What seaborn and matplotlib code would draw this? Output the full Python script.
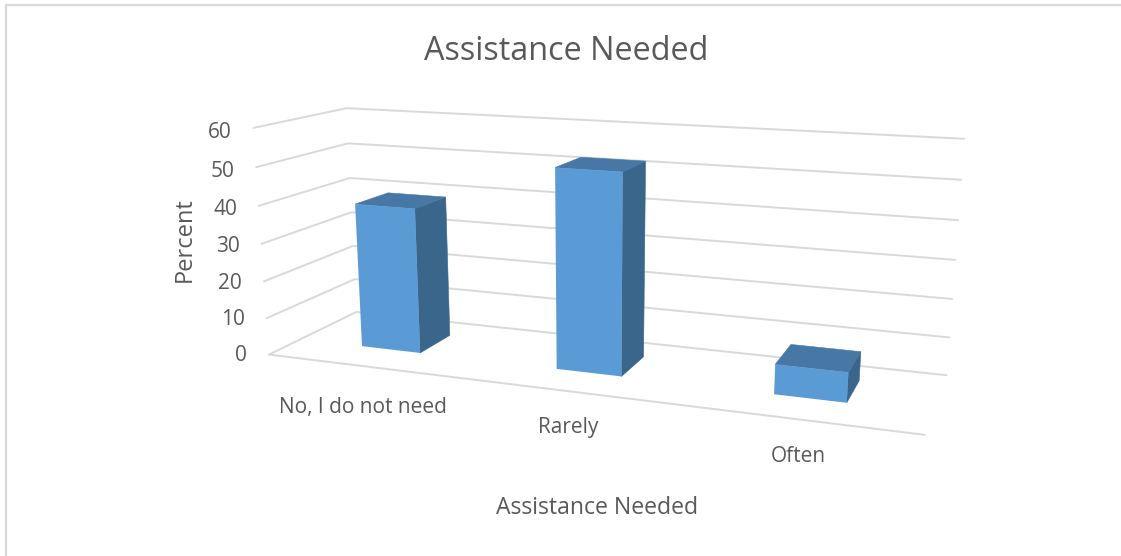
import numpy as np
import pandas as pd
import seaborn as sns
import matplotlib
matplotlib.use("Agg")
import matplotlib.pyplot as plt
from matplotlib.patches import Polygon
from matplotlib.transforms import Transform, IdentityTransform

categories = ["No, I do not need", "Rarely", "Often"]
percent = [39.0, 52.0, 7.6]
value_ticks = [0, 10, 20, 30, 40, 50, 60]
title_text = "Assistance Needed"
x_title = "Assistance Needed"
y_title = "Percent"

W, H = 1121, 556
FRONT, TOP, SIDE = "#5B9BD5", "#4677A5", "#3B668C"
GRID, TEXT = "#D9D9D9", "#595959"
BAR_WIDTH = 0.31
BAR_SHIFT = -0.008
DEPTH_NEAR, DEPTH_FAR = 0.34, 0.73

sns.set_theme(style="white")
plt.rcParams["font.family"] = ["Open Sans", "DejaVu Sans"]

# Perspective camera: world (category axis, depth, value) -> image pixels.
world = np.array([[0, 0, 0], [3, 0, 0], [0, 1, 0], [3, 1, 0],
                  [0, 0, 60], [0, 1, 60], [3, 1, 60]], float)
image = np.array([[269.3, 352.5], [925, 436], [356, 314], [946.5, 374],
                  [253, 129], [347, 107], [964, 139]], float)
rows = []
for (a, b, c), (u, v) in zip(world, image):
    rows.append([a, b, c, 1, 0, 0, 0, 0, -u*a, -u*b, -u*c, -u])
    rows.append([0, 0, 0, 0, a, b, c, 1, -v*a, -v*b, -v*c, -v])
P = np.linalg.svd(np.array(rows))[2][-1].reshape(3, 4)


def project(a, d, z):
    """World to display coordinates (y up, as matplotlib draws)."""
    pts = np.column_stack([a, d, z, np.ones_like(np.asarray(a, float))])
    q = pts @ P.T
    return np.column_stack([q[:, 0] / q[:, 2], H - q[:, 1] / q[:, 2]])


class FacePlane(Transform):
    """Maps (seaborn bar x, value) on the plane at a given depth to display."""
    input_dims = output_dims = 2
    has_inverse = False
    is_affine = False

    def __init__(self, plane_depth):
        super().__init__()
        self.plane_depth = plane_depth

    def transform_non_affine(self, xy):
        xy = np.asarray(xy, float)
        return project(xy[:, 0] + 0.5 + BAR_SHIFT, np.full(len(xy), self.plane_depth), xy[:, 1])

    def transform_path_non_affine(self, path):
        return type(path)(self.transform_non_affine(path.vertices), path.codes)


fig = plt.figure(figsize=(W / 100, H / 100), dpi=100, facecolor="white")
ax = fig.add_axes([0, 0, 1, 1])
df = pd.DataFrame({"Assistance": categories, "Percent": percent})
sns.barplot(data=df, x="Assistance", y="Percent", order=categories,
            color=FRONT, saturation=1, width=BAR_WIDTH, ax=ax)
ax.set_ylim(0, 60)
ax.axis("off")

ident = IdentityTransform()
px = fig.transFigure


def poly(a, d, z, color, zorder=2):
    ax.add_patch(Polygon(project(np.array(a, float), np.array(d, float), np.array(z, float)),
                         closed=True, facecolor=color, edgecolor=color, lw=0.4,
                         transform=ident, zorder=zorder, clip_on=False))


for bar in list(ax.patches):
    x0 = bar.get_x() + 0.5 + BAR_SHIFT
    x1 = x0 + bar.get_width()
    v = bar.get_height()
    n, f = DEPTH_NEAR, DEPTH_FAR
    poly([x1, x1, x1, x1], [n, f, f, n], [0, 0, v, v], SIDE)
    poly([x0, x1, x1, x0], [n, n, f, f], [v, v, v, v], TOP)
    bar.set_transform(FacePlane(n))
    bar.set_clip_on(False)
    bar.set_zorder(3)
    bar.set_linewidth(0)

# walls and floor
for v in value_ticks:
    c = project(np.array([0., 0., 3.]), np.array([0., 1., 1.]), np.full(3, float(v)))
    ax.plot(c[:, 0], c[:, 1], color=GRID, lw=1.4, transform=ident, zorder=1, clip_on=False)
    ax.text(c[0, 0] - 22, c[0, 1] - 1 - v / 15, str(v), transform=ident, ha="right", va="center",
            color=TEXT, fontsize=15)
e = project(np.array([0., 3.]), np.zeros(2), np.zeros(2))
ax.plot(e[:, 0], e[:, 1], color=GRID, lw=1.4, transform=ident, zorder=1, clip_on=False)

# outer chart border (top and left are the visible ones)
fig.add_artist(plt.Line2D([0.0055, 0.0055, 1], [0, 1 - 5 / H, 1 - 5 / H], color="#D9D9D9",
                          lw=1.6, transform=px))


def label(xp, yp, s, size, **kw):
    fig.text(xp / W, 1 - yp / H, s, ha="center", va="center", color=TEXT, fontsize=size, **kw)


label(566, 51, title_text, 23.3)
label(597, 508, x_title, 16.6)
label(185, 240, y_title, 17, rotation=90)
for s, xp, yp in zip(categories, [363, 568, 798], [407, 427, 456]):
    label(xp, yp, s, 15)

fig.savefig("out.png", dpi=100)
